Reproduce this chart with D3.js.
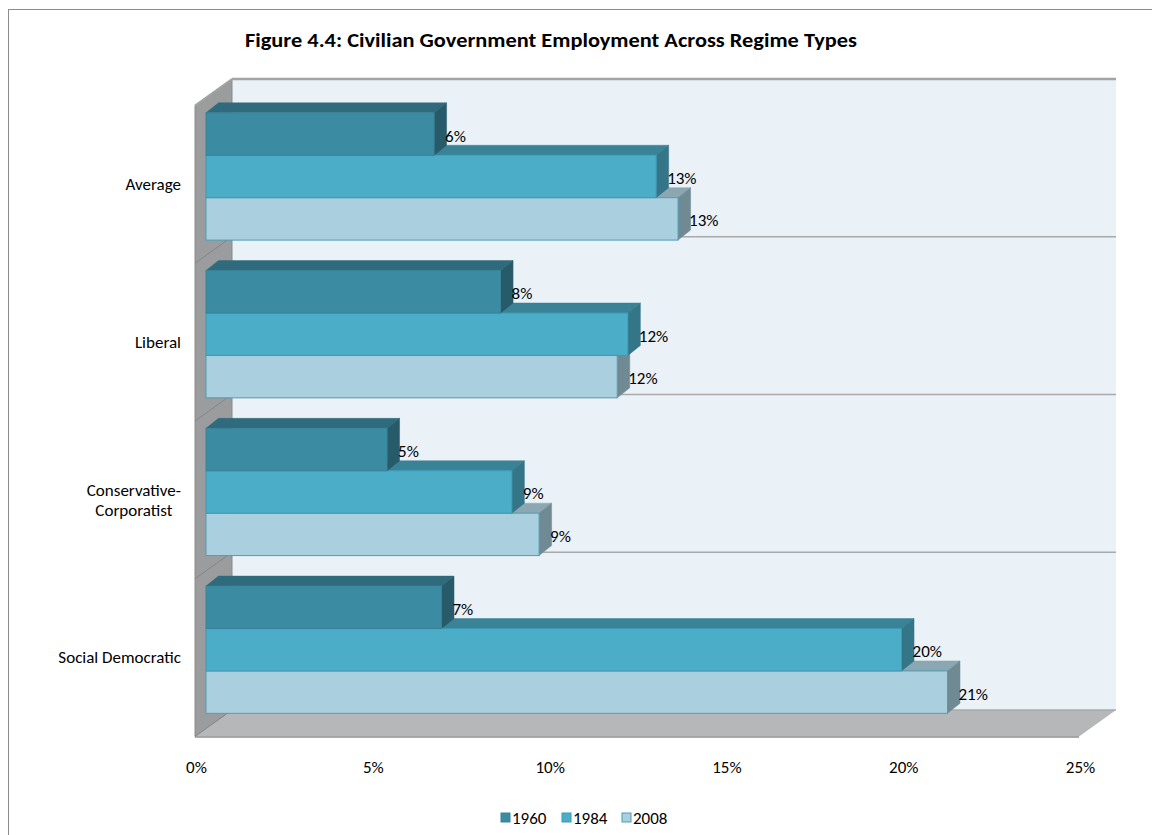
<!DOCTYPE html>
<html>
<head>
<meta charset="utf-8">
<script src="https://cdn.jsdelivr.net/npm/d3@7/dist/d3.min.js"></script>
<style>
  html, body { margin: 0; padding: 0; background: #ffffff; }
  svg { display: block; font-family: Calibri, Carlito, Lato, "Open Sans", sans-serif; }
</style>
</head>
<body>
<svg id="chart" width="1152" height="835"></svg>
<script>
// Regime types (top to bottom) and survey years
const categories = ["Average", "Liberal", "Conservative-Corporatist", "Social Democratic"];
const years = ["1960", "1984", "2008"];

// Civilian government employment share, one array per year, in category order
const values1960 = [0.0645, 0.0833, 0.0512, 0.0666];
const values1984 = [0.1273, 0.1193, 0.0865, 0.1967];
const values2008 = [0.1335, 0.1163, 0.0942, 0.2097];

const tickValues = [0, 0.05, 0.10, 0.15, 0.20, 0.25];
const titleText = "Figure 4.4: Civilian Government Employment Across Regime Types";

const seriesValues = { "1960": values1960, "1984": values1984, "2008": values2008 };

// Faces of each year's bars: front, top, right side, outline
const palette = {
  "1960": { front: "#3b8ca2", top: "#2f6b7c", side: "#285b69", stroke: "#37839a", legend: "#3b8ca2" },
  "1984": { front: "#4badc8", top: "#3a8296", side: "#347587", stroke: "#3d9ab4", legend: "#4badc8" },
  "2008": { front: "#aacfdf", top: "#8aa7b2", side: "#6f8a92", stroke: "#4e9db5", legend: "#aacfdf" }
};

const FONT = 17;
const svg = d3.select("#chart");

// Oblique 3-D frame: front plane origin, back wall depth offset
const frontX = 195;
const wallDX = 37, wallDY = -26.5;
const plotTop = 79, plotBottom = 710;

// Bars sit inside the depth: offset of their front face and their own depth
const barDX0 = 11, barDY0 = -7.9;
const barDX = 12.5, barDY = -10;

const x = d3.scaleLinear().domain([0, 0.25]).range([0, 884]);

// Category bands measured on the back wall
const band = d3.scaleBand().domain(categories).range([plotTop, plotBottom]).padding(0);

// Outer chart frame
svg.append("rect")
  .attr("x", 8.5).attr("y", 9.5)
  .attr("width", 1300).attr("height", 1000)
  .attr("fill", "#ffffff").attr("stroke", "#8c8c8c").attr("stroke-width", 1);

// Title
svg.append("text")
  .attr("x", 245).attr("y", 47)
  .attr("text-anchor", "start")
  .attr("font-size", 20.5).attr("font-weight", "bold")
  .attr("fill", "#000")
  .attr("textLength", 612).attr("lengthAdjust", "spacingAndGlyphs")
  .text(titleText);

const wallLeft = frontX + wallDX;
const wallRight = wallLeft + x(0.25);

// Back wall
svg.append("rect")
  .attr("x", wallLeft).attr("y", plotTop)
  .attr("width", x(0.25)).attr("height", plotBottom - plotTop)
  .attr("fill", "#eaf1f7");

// Left side wall
svg.append("polygon")
  .attr("points", [
    [frontX, plotTop - wallDY], [wallLeft, plotTop],
    [wallLeft, plotBottom], [frontX, plotBottom - wallDY]
  ].map(p => p.join(",")).join(" "))
  .attr("fill", "#9b9c9e").attr("stroke", "#8a8b8d").attr("stroke-width", 1);

// Floor
svg.append("polygon")
  .attr("points", [
    [frontX, plotBottom - wallDY], [frontX + x(0.25), plotBottom - wallDY],
    [wallRight, plotBottom], [wallLeft, plotBottom]
  ].map(p => p.join(",")).join(" "))
  .attr("fill", "#b5b7b9");
svg.append("line")
  .attr("x1", frontX).attr("x2", frontX + x(0.25))
  .attr("y1", plotBottom - wallDY + 0.5).attr("y2", plotBottom - wallDY + 0.5)
  .attr("stroke", "#8f9193").attr("stroke-width", 1.5);

// Category gridlines on the back wall and the side wall
const gridYs = categories.map(c => band(c)).concat([plotBottom]);
gridYs.forEach((gy, i) => {
  svg.append("line")
    .attr("x1", wallLeft).attr("x2", wallRight)
    .attr("y1", gy).attr("y2", gy)
    .attr("stroke", i === 0 ? "#a3a3a3" : "#aaaaaa")
    .attr("stroke-width", i === 0 ? 2.5 : 1.5);
  svg.append("line")
    .attr("x1", wallLeft).attr("y1", gy)
    .attr("x2", frontX).attr("y2", gy - wallDY)
    .attr("stroke", i === 0 ? "#a3a3a3" : "#858688")
    .attr("stroke-width", i === 0 ? 2 : 1);
});

// Bars: drawn from the lowest series upward so upper bars hide the faces beneath them
const inner = d3.scaleBand().domain(years).paddingInner(0).paddingOuter(0.36);
const barX0 = frontX + barDX0;
const pts = arr => arr.map(p => p.join(",")).join(" ");

const barLayer = svg.append("g");
const labelLayer = svg.append("g");

categories.forEach((cat, ci) => {
  const top = band(cat) - wallDY + barDY0;
  inner.range([top, top + band.bandwidth()]);
  const h = inner.bandwidth();
  [...years].reverse().forEach(yr => {
    const v = seriesValues[yr][ci];
    const col = palette[yr];
    const y0 = inner(yr);
    const x1 = barX0 + x(v);
    const g = barLayer.append("g");
    // top face
    g.append("polygon")
      .attr("points", pts([[barX0, y0], [x1, y0], [x1 + barDX, y0 + barDY], [barX0 + barDX, y0 + barDY]]))
      .attr("fill", col.top).attr("stroke", col.top).attr("stroke-width", 0.5);
    // right end face
    g.append("polygon")
      .attr("points", pts([[x1, y0], [x1 + barDX, y0 + barDY], [x1 + barDX, y0 + h + barDY], [x1, y0 + h]]))
      .attr("fill", col.side).attr("stroke", col.side).attr("stroke-width", 0.5);
    // front face
    g.append("rect")
      .attr("x", barX0).attr("y", y0)
      .attr("width", x(v)).attr("height", h)
      .attr("fill", col.front).attr("stroke", col.stroke).attr("stroke-width", 1);

    labelLayer.append("text")
      .attr("x", x1 + 11).attr("y", y0 + h / 2 + 2)
      .attr("dominant-baseline", "central")
      .attr("font-size", FONT).attr("fill", "#000")
      .text(d3.format(".0%")(v));
  });
});

// Category labels, centred on each band at the front plane
categories.forEach(cat => {
  const cy = band(cat) - wallDY + band.bandwidth() / 2;
  const lines = cat.includes("-") ? [cat.slice(0, cat.indexOf("-") + 1), cat.slice(cat.indexOf("-") + 1)] : [cat];
  const t = svg.append("text")
    .attr("font-size", FONT).attr("fill", "#000")
    .attr("dominant-baseline", "central");
  if (lines.length === 1) {
    t.attr("x", 181).attr("y", cy).attr("text-anchor", "end").text(cat);
  } else {
    const lh = 20;
    const spans = lines.map((ln, i) => t.append("tspan")
      .attr("y", cy + (i - (lines.length - 1) / 2) * lh).text(ln));
    const widths = spans.map(s => s.node().getComputedTextLength());
    const cx = 181 - d3.max(widths) / 2;
    t.attr("text-anchor", "middle");
    spans.forEach(s => s.attr("x", cx));
  }
});

// Value axis along the front edge of the floor
const axisG = svg.append("g")
  .attr("transform", `translate(${frontX + 1},${plotBottom - wallDY + 31})`)
  .call(d3.axisBottom(x).tickValues(tickValues).tickFormat(d3.format(".0%")).tickSize(0).tickPadding(0));
axisG.select(".domain").remove();
axisG.selectAll("text")
  .attr("font-size", FONT).attr("fill", "#000")
  .attr("font-family", "Calibri, Carlito, Lato, 'Open Sans', sans-serif")
  .attr("dy", "0.35em").attr("y", 0);

// Legend
const legendX = [501, 562, 622];
const legend = svg.append("g");
years.forEach((yr, i) => {
  legend.append("rect")
    .attr("x", legendX[i]).attr("y", 813)
    .attr("width", 9).attr("height", 9)
    .attr("fill", palette[yr].legend).attr("stroke", palette[yr].stroke).attr("stroke-width", 1);
  legend.append("text")
    .attr("x", legendX[i] + 11).attr("y", 818)
    .attr("dominant-baseline", "central")
    .attr("font-size", FONT).attr("fill", "#000")
    .text(yr);
});
</script>
</body>
</html>
